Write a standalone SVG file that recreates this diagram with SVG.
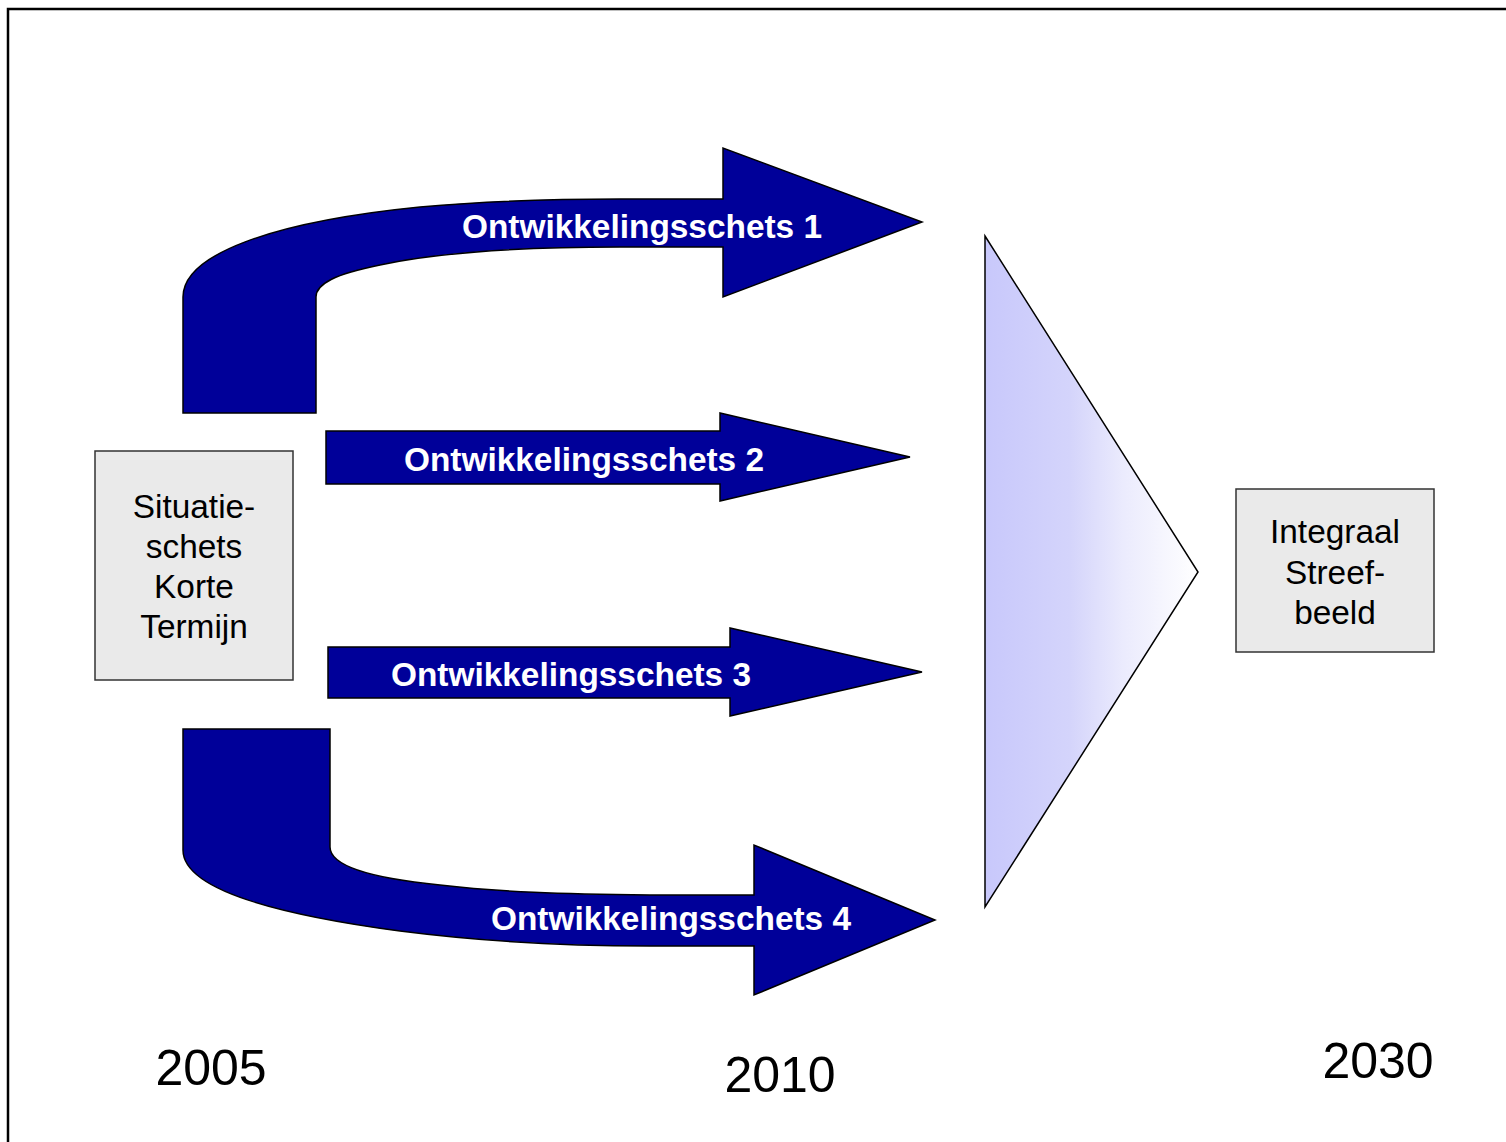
<svg xmlns="http://www.w3.org/2000/svg" width="1506" height="1142" viewBox="0 0 1506 1142">
<style>
.arrow{fill:#000099;stroke:#000;stroke-width:1.5;stroke-linejoin:miter}
.alabel{font-family:"Liberation Sans",Arial,sans-serif;font-weight:bold;font-size:33.4px;fill:#fff;text-anchor:middle}
.box{fill:#eaeaea;stroke:#333;stroke-width:1.5}
.btext{font-family:"Liberation Sans",Arial,sans-serif;font-size:33.4px;fill:#000;text-anchor:middle}
.year{font-family:"Liberation Sans",Arial,sans-serif;font-size:50px;fill:#000;text-anchor:middle}
</style>
<defs>
<linearGradient id="tri" x1="0" y1="0" x2="1" y2="0">
<stop offset="0" stop-color="#c8c8fb"/>
<stop offset="0.4" stop-color="#d4d4fb"/>
<stop offset="0.65" stop-color="#ebebfd"/>
<stop offset="1" stop-color="#ffffff"/>
</linearGradient>
</defs>
<rect width="1506" height="1142" fill="#fff"/>
<path d="M8,1142 V9 H1506" fill="none" stroke="#000" stroke-width="2.5"/>
<g id="connectors">
<g id="arrow1">
<path class="arrow" d="M183,413 L183,297 C183,255 270,222 420,207 C500,200 560,199 620,199 L723,199 L723,148 L922,222 L723,297 L723,247 L620,247 C520,247 440,252 380,265 C335,274 316,284 316,297 L316,413 Z"/>
<text class="alabel" x="642" y="238">Ontwikkelingsschets 1</text>
</g>
<g id="arrow2">
<path class="arrow" d="M326,431 L720,431 L720,413 L910,457 L720,501 L720,484 L326,484 Z"/>
<text class="alabel" x="584" y="471">Ontwikkelingsschets 2</text>
</g>
<g id="arrow3">
<path class="arrow" d="M328,647 L730,647 L730,628 L922,672 L730,716 L730,698 L328,698 Z"/>
<text class="alabel" x="571" y="686">Ontwikkelingsschets 3</text>
</g>
<g id="arrow4">
<path class="arrow" d="M183,729 L330,729 L330,847 C330,866 370,878 440,885 C500,892 560,894 650,895 L754,895 L754,845 L935,920 L754,995 L754,946 L650,946 C560,946 470,940 400,931 C280,915 183,890 183,850 Z"/>
<text class="alabel" x="671" y="930">Ontwikkelingsschets 4</text>
</g>
</g>
<g id="node-situatie">
<rect class="box" x="95" y="451" width="198" height="229"/>
<text class="btext" x="194" y="518">Situatie-</text>
<text class="btext" x="194" y="558">schets</text>
<text class="btext" x="194" y="598">Korte</text>
<text class="btext" x="194" y="638">Termijn</text>
</g>
<g id="node-triangle">
<path d="M985,236 L1198,572 L985,907 Z" fill="url(#tri)" stroke="#000" stroke-width="1.5"/>
</g>
<g id="node-integraal">
<rect class="box" x="1236" y="489" width="198" height="163"/>
<text class="btext" x="1335" y="543">Integraal</text>
<text class="btext" x="1335" y="584">Streef-</text>
<text class="btext" x="1335" y="624">beeld</text>
</g>
<g id="years">
<text class="year" x="211" y="1085">2005</text>
<text class="year" x="780" y="1092">2010</text>
<text class="year" x="1378" y="1078">2030</text>
</g>
</svg>
